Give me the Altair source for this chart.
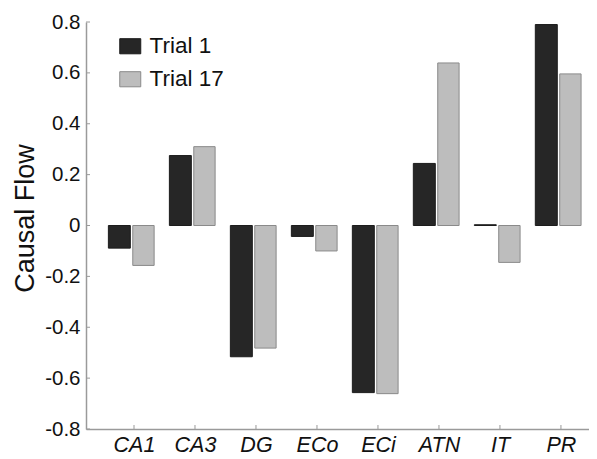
import altair as alt
import pandas as pd

regions = ["CA1", "CA3", "DG", "ECo", "ECi", "ATN", "IT", "PR"]
trial1 = [-0.089, 0.275, -0.516, -0.043, -0.657, 0.244, 0.003, 0.79]
trial17 = [-0.157, 0.31, -0.482, -0.10, -0.661, 0.639, -0.145, 0.596]
series = ["Trial 1", "Trial 17"]
yticks = [-0.8, -0.6, -0.4, -0.2, 0.0, 0.2, 0.4, 0.6, 0.8]

rows = []
for i, r in enumerate(regions):
    rows.append({"region": r, "idx": i + 1, "trial": series[0], "value": trial1[i]})
    rows.append({"region": r, "idx": i + 1, "trial": series[1], "value": trial17[i]})
df = pd.DataFrame(rows)
xt = pd.DataFrame({"idx": list(range(1, len(regions) + 1))})
yt = pd.DataFrame({"value": yticks})

W, H = 503, 407
FONT = "Liberation Sans"
AX = "#9a9a9a"

xscale = alt.Scale(domain=[0.213, 8.46], nice=False, zero=False)
yscale = alt.Scale(domain=[-0.8, 0.8], nice=False)

names = "[" + ",".join("'%s'" % r for r in regions) + "]"
xaxis = alt.Axis(values=list(range(1, len(regions) + 1)), labelExpr=names + "[datum.value-1]",
                 title=None, grid=False, ticks=False, domainColor=AX, domainWidth=1.5,
                 labelFont=FONT, labelFontSize=21.5, labelFontStyle="italic", labelColor="#111",
                 labelPadding=5, labelFlush=False)
yaxis = alt.Axis(values=yticks, title="Causal Flow", grid=False, ticks=False,
                 domainColor=AX, domainWidth=1.5,
                 labelExpr="datum.value == 0 ? '0' : (datum.value < 0 ? '-' : '') + format(abs(datum.value), '.1f')",
                 labelFont=FONT, labelFontSize=20.5, labelColor="#111", labelPadding=6,
                 titleFont=FONT, titleFontSize=27, titleFontWeight="normal", titleColor="#111",
                 titleX=-61, titleY=196, titleAngle=270, titleAlign="center", titleBaseline="middle")

color_scale = alt.Scale(domain=series, range=["#262626", "#bdbdbd"])
stroke_scale = alt.Scale(domain=series, range=["#1c1c1c", "#8a8a8a"])

legend = alt.Legend(title=None, orient="none", legendX=33, legendY=13, padding=0,
                    symbolType="M-1,-0.72H1V0.72H-1Z", symbolSize=441, symbolStrokeWidth=1,
                    labelFont=FONT, labelFontSize=22.5, labelColor="#111", labelOffset=8,
                    rowPadding=10, symbolOpacity=1)

bars = alt.Chart(df).transform_calculate(
    x0="datum.idx + (datum.trial == 'Trial 1' ? -0.42 : -0.02)",
    x1="datum.idx + (datum.trial == 'Trial 1' ? -0.06 : 0.33)",
).mark_bar(strokeWidth=1, opacity=1).encode(
    x=alt.X("x0:Q", scale=xscale, axis=xaxis),
    x2="x1:Q",
    y=alt.Y("value:Q", scale=yscale, axis=yaxis),
    y2=alt.datum(0),
    fill=alt.Fill("trial:N", scale=color_scale, legend=legend),
    stroke=alt.Stroke("trial:N", scale=stroke_scale, legend=legend),
)

ytick_marks = alt.Chart(yt).mark_rule(color=AX, strokeWidth=1).encode(
    y=alt.Y("value:Q", scale=yscale, axis=yaxis),
    x=alt.value(0), x2=alt.value(4),
)
xtick_marks = alt.Chart(xt).mark_rule(color=AX, strokeWidth=1).encode(
    x=alt.X("idx:Q", scale=xscale, axis=xaxis),
    y=alt.value(H), y2=alt.value(H - 4),
)

chart = alt.layer(bars, ytick_marks, xtick_marks).properties(
    width=W, height=H,
    autosize=alt.AutoSizeParams(type="none"),
    padding={"left": 78, "top": 14, "right": 0, "bottom": 30},
    background="white",
).configure_view(stroke=None)

chart.save("out.html", embed_options={"renderer": "svg", "actions": False})
